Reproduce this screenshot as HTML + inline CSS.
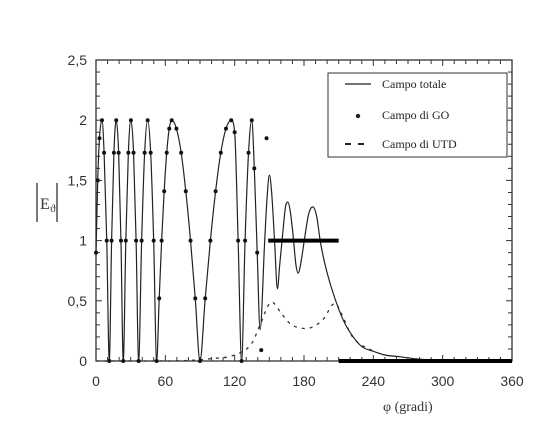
<!DOCTYPE html>
<html><head><meta charset="utf-8"><style>
html,body{margin:0;padding:0;background:#fff;}
svg{display:block;font-family:"Liberation Sans",sans-serif;}
</style></head><body>
<svg id="chart" width="538" height="424" viewBox="0 0 538 424">
<rect x="96" y="60" width="416" height="301" fill="none" stroke="#333" stroke-width="1.3"/>
<g id="ticks"></g>
<g id="labels" fill="#333" font-size="14"></g>
<g id="series"></g>
<g fill="#333">
<line x1="37" y1="183" x2="37" y2="222" stroke="#333" stroke-width="1.3"/>
<text x="40" y="209" font-family="Liberation Serif, serif" font-size="16">E</text>
<text x="50" y="212" font-family="Liberation Serif, serif" font-size="11">ϑ</text>
<line x1="57" y1="183" x2="57" y2="222" stroke="#333" stroke-width="1.3"/>
</g>
<text x="383" y="411" font-family="Liberation Serif, serif" font-size="14" fill="#333">φ  (gradi)</text>
<g>
<rect x="328" y="73" width="179" height="84" fill="#fff" stroke="#333" stroke-width="1"/>
<line x1="345" y1="84" x2="371" y2="84" stroke="#222" stroke-width="1.2"/>
<text x="382" y="88" font-family="Liberation Serif, serif" font-size="12" fill="#222">Campo totale</text>
<circle cx="358" cy="116" r="2.2" fill="#222"/>
<text x="382" y="119" font-family="Liberation Serif, serif" font-size="12" fill="#222">Campo di GO</text>
<line x1="345" y1="144" x2="351" y2="144" stroke="#222" stroke-width="2"/>
<line x1="358" y1="144" x2="364" y2="144" stroke="#222" stroke-width="2"/>
<text x="382" y="148" font-family="Liberation Serif, serif" font-size="12" fill="#222">Campo di UTD</text>
</g>
</svg>
<script>
const xTicks=[0,60,120,180,240,300,360];
const yTicks=[0,0.5,1,1.5,2,2.5];
const yTickLabels=["0","0,5","1","1,5","2","2,5"];
const totalAngles=[0,1.5,3,5.2,7,9.3,11.5,13.5,15.5,17.5,19.6,21.6,23.6,25.8,28,30.2,32.5,34.7,36.9,39.5,42.1,44.7,47.3,49.9,52.5,54.7,56.8,59,61.2,63.4,65.5,69.6,73.7,77.7,81.8,85.9,90,94.5,99,103.5,108,112.5,117,120,123,126,129,132,134.8,137,139.5,142,146,148,150,152,154.5,157,159,161.5,164,166,168,170.5,173,175,177,181,184,187.5,191,194,198,204,210.5,216,222.6,230,240,250,263,280,300,360];
const totalValues=[0.9,1.5,1.85,2,1.73,1,0,1,1.73,2,1.73,1,0,1,1.73,2,1.73,1,0,1,1.73,2,1.73,1,0,0.52,1,1.41,1.73,1.93,2,1.93,1.73,1.41,1,0.52,0,0.52,1,1.41,1.73,1.93,2,1.9,1,0,1,1.73,2,1.6,0.9,0.26,1.0,1.35,1.545,1.4,1.0,0.6,0.8,1.05,1.28,1.32,1.25,1.05,0.8,0.73,0.8,1.05,1.22,1.28,1.2,1.0,0.81,0.6,0.42,0.3,0.2,0.12,0.08,0.05,0.035,0.015,0.005,0];
const goExtraAngles=[143,147.6];
const goExtraValues=[0.09,1.85];
const goBarFrom=[149,210];
const goBarTo=[210,360];
const goBarValue=[1,0];
const utdAngles=[0,60,90,100,120,135,142,152,160,168,182,196,207,212,222,240];
const utdValues=[0,0,0.01,0.02,0.05,0.15,0.3,0.49,0.4,0.31,0.27,0.34,0.48,0.4,0.2,0.08];
const X=d=>96+d*(416/360), Y=v=>361-v*(301/2.5);
const NS="http://www.w3.org/2000/svg";
function mk(t,a,p){const e=document.createElementNS(NS,t);for(const k in a)e.setAttribute(k,a[k]);p.appendChild(e);return e;}
const tk=document.getElementById('ticks'),lb=document.getElementById('labels'),sr=document.getElementById('series');
for(let d=0;d<=360;d+=10){const x=X(d),L=d%60===0?6:4;
mk('line',{x1:x,y1:361,x2:x,y2:361-L,stroke:'#333'},tk);mk('line',{x1:x,y1:60,x2:x,y2:60+L,stroke:'#333'},tk);}
for(let i=0;i<=25;i++){const y=Y(i/10),L=i%5===0?6:4;
mk('line',{x1:96,y1:y,x2:96+L,y2:y,stroke:'#333'},tk);mk('line',{x1:512,y1:y,x2:512-L,y2:y,stroke:'#333'},tk);}
xTicks.forEach(d=>{const t=mk('text',{x:X(d),y:386,'text-anchor':'middle'},lb);t.textContent=d;

});
yTicks.forEach((v,i)=>{const t=mk('text',{x:87,y:Y(v)+5,'text-anchor':'end'},lb);t.textContent=yTickLabels[i];

});
// monotone cubic (Fritsch-Carlson) through data points
function mono(xs,ys){const n=xs.length,px=xs.map(X),py=ys.map(Y);const d=[],m=[];
for(let i=0;i<n-1;i++)d.push((py[i+1]-py[i])/(px[i+1]-px[i]));
m[0]=d[0];m[n-1]=d[n-2];
for(let i=1;i<n-1;i++){m[i]=(d[i-1]*d[i]<=0)?0:(d[i-1]+d[i])/2;}
for(let i=0;i<n-1;i++){if(d[i]===0){m[i]=0;m[i+1]=0;continue;}
const a=m[i]/d[i],b=m[i+1]/d[i],s=a*a+b*b;if(s>9){const t=3/Math.sqrt(s);m[i]=t*a*d[i];m[i+1]=t*b*d[i];}}
let p=`M${px[0]},${py[0]}`;
for(let i=0;i<n-1;i++){const h=(px[i+1]-px[i])/3;
p+=` C${px[i]+h},${py[i]+m[i]*h} ${px[i+1]-h},${py[i+1]-m[i+1]*h} ${px[i+1]},${py[i+1]}`;}return p;}
const utd=mk('path',{d:mono(utdAngles,utdValues),fill:'none',stroke:'#333','stroke-width':1.3,'stroke-dasharray':'3 5'},sr);


const tot=mk('path',{d:mono(totalAngles,totalValues),fill:'none',stroke:'#222','stroke-width':1.2,'stroke-linejoin':'round'},sr);


totalAngles.forEach((a,i)=>{if(a<=140){const c=mk('circle',{cx:X(a),cy:Y(totalValues[i]),r:2,fill:'#111'},sr);

}});
goExtraAngles.forEach((a,i)=>{const c=mk('circle',{cx:X(a),cy:Y(goExtraValues[i]),r:2,fill:'#111'},sr);

});
goBarFrom.forEach((f,i)=>{const l=mk('line',{x1:X(f),y1:Y(goBarValue[i]),x2:X(goBarTo[i]),y2:Y(goBarValue[i]),stroke:'#000','stroke-width':4},sr);

});
</script>
</body></html>
